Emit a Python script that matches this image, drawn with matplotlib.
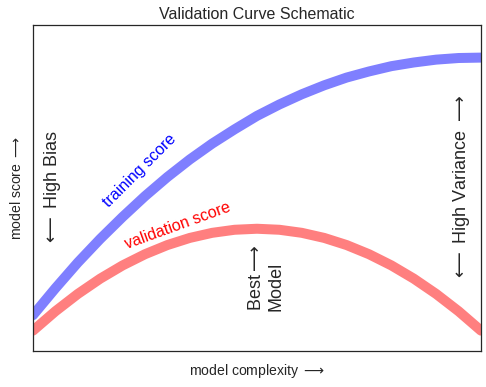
import numpy as np
import matplotlib
import matplotlib.pyplot as plt

matplotlib.rcParams['figure.dpi'] = 72

plt.style.use('seaborn-v0_8-white')
plt.rcParams['font.sans-serif'] = ['Liberation Sans', 'DejaVu Sans']

# complexity axis and the two score curves
complexity = [0.00, 0.05, 0.10, 0.15, 0.20, 0.25, 0.30, 0.35, 0.40, 0.45, 0.50,
              0.55, 0.60, 0.65, 0.70, 0.75, 0.80, 0.85, 0.90, 0.95, 1.00]
training_score = [-0.212, -0.146, -0.083, -0.025, 0.029, 0.080, 0.127, 0.170,
                  0.209, 0.244, 0.277, 0.305, 0.330, 0.352, 0.371, 0.386,
                  0.399, 0.408, 0.415, 0.419, 0.420]
validation_score = [-0.250, -0.2025, -0.160, -0.1225, -0.090, -0.0625, -0.040,
                    -0.0225, -0.010, -0.0025, 0.000, -0.0025, -0.010, -0.0225,
                    -0.040, -0.0625, -0.090, -0.1225, -0.160, -0.2025, -0.250]

fig = plt.figure(figsize=(486 / 72, 387 / 72))
ax = fig.add_axes([33 / 486, 36 / 387, 448 / 486, 326 / 387])

ax.plot(complexity, training_score, lw=10, alpha=0.5, color='blue')
ax.plot(complexity, validation_score, lw=10, alpha=0.5, color='red')

ax.text(0.15, 0.053, "training score", rotation=45, size=16, color='blue')
ax.text(0.2, -0.05, "validation score", rotation=20, size=16, color='red')

ax.text(0.02, 0.1, r'$\longleftarrow$ High Bias', size=18, rotation=90, va='center')
ax.text(0.98, 0.1, r'$\longleftarrow$ High Variance $\longrightarrow$', size=18,
        rotation=90, ha='right', va='center')
ax.text(0.48, -0.12, 'Best$\\longrightarrow$\nModel', size=18, rotation=90, va='center')

ax.set_xlim(0, 1)
ax.set_ylim(-0.3, 0.5)

ax.set_xlabel(r'model complexity $\longrightarrow$', size=14, labelpad=8)
ax.set_ylabel(r'model score $\longrightarrow$', size=14, labelpad=5)

ax.xaxis.set_major_formatter(plt.NullFormatter())
ax.yaxis.set_major_formatter(plt.NullFormatter())

ax.set_title("Validation Curve Schematic", size=16)

plt.savefig('out.png')
